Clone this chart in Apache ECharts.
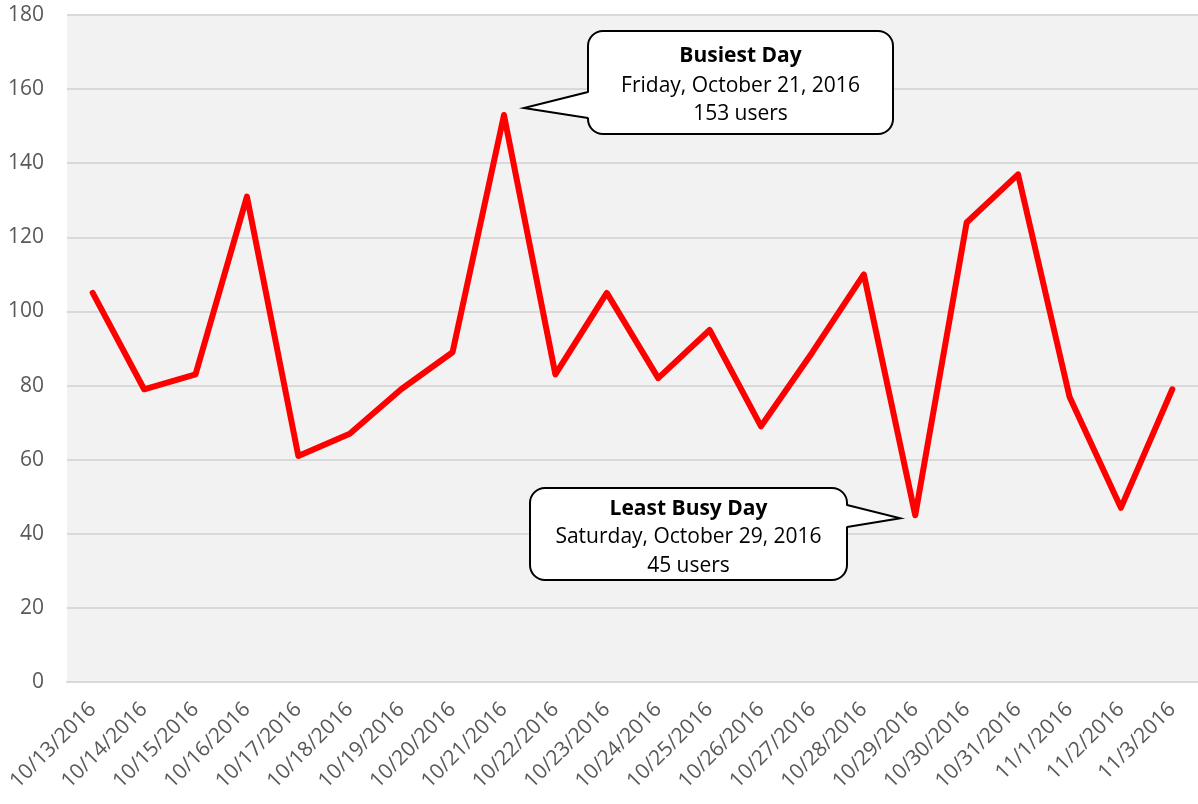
<!doctype html>
<html>
<head>
<meta charset="utf-8">
<title>Users per day</title>
<style>
  html, body { margin: 0; padding: 0; background: #fff; }
  #main { width: 1198px; height: 804px; }
</style>
</head>
<body>
<div id="main"></div>
<script src="https://cdn.jsdelivr.net/npm/echarts@6/dist/echarts.min.js"></script>
<script>
var days = ['10/13/2016', '10/14/2016', '10/15/2016', '10/16/2016', '10/17/2016', '10/18/2016',
            '10/19/2016', '10/20/2016', '10/21/2016', '10/22/2016', '10/23/2016', '10/24/2016',
            '10/25/2016', '10/26/2016', '10/27/2016', '10/28/2016', '10/29/2016', '10/30/2016',
            '10/31/2016', '11/1/2016', '11/2/2016', '11/3/2016'];
var users = [105, 79, 83, 131, 61, 67, 79, 89, 153, 83, 105, 82, 95, 69, 89, 110, 45, 124, 137, 77, 47, 79];

var busiest = { title: 'Busiest Day', date: 'Friday, October 21, 2016', count: '153 users', idx: 8 };
var leastBusy = { title: 'Least Busy Day', date: 'Saturday, October 29, 2016', count: '45 users', idx: 16 };

var font = '"Open Sans", "Liberation Sans", sans-serif';
var myChart = echarts.init(document.getElementById('main'));

var option = {
    backgroundColor: '#ffffff',
    animation: false,
    grid: {
        left: 67, right: 0, top: 15, bottom: 122,
        show: true, backgroundColor: '#f2f2f2', borderWidth: 0
    },
    xAxis: {
        type: 'category',
        data: days,
        boundaryGap: true,
        axisLine: { lineStyle: { color: '#d9d9d9', width: 2 } },
        axisTick: { show: false },
        axisLabel: {
            interval: 0, rotate: 45, margin: 24,
            color: '#595959', fontSize: 21, fontFamily: font
        }
    },
    yAxis: {
        type: 'value',
        min: 0, max: 180, interval: 20,
        axisLine: { show: false },
        axisTick: { show: false },
        splitLine: { lineStyle: { color: '#d9d9d9', width: 2 } },
        axisLabel: { margin: 23, color: '#595959', fontSize: 21, fontFamily: font }
    },
    series: [{
        type: 'line',
        data: users,
        symbol: 'none',
        lineStyle: { color: '#ff0000', width: 6, join: 'round', cap: 'round' }
    }]
};
myChart.setOption(option);

// callout = rounded box + tail (white patch hides the box border under the tail)
function callout(info, box, side, t1, t2, offset) {
    var pt = myChart.convertToPixel({ seriesIndex: 0 }, [info.idx, users[info.idx]]);
    var tip = [pt[0] + offset[0], pt[1] + offset[1]];
    var ex = side === 'left' ? box.x : box.x + box.w;
    var inset = side === 'left' ? 3 : -3;
    var cx = box.x + box.w / 2;
    var txt = { fill: '#000', fontSize: 21, fontFamily: font, align: 'center', verticalAlign: 'middle' };
    return [
        { type: 'rect', z: 100,
          shape: { x: box.x, y: box.y, width: box.w, height: box.h, r: 15 },
          style: { fill: '#ffffff', stroke: '#000000', lineWidth: 2 } },
        { type: 'polygon', z: 101,
          shape: { points: [[ex + inset, t1], tip, [ex + inset, t2]] },
          style: { fill: '#ffffff', stroke: null } },
        { type: 'polyline', z: 102,
          shape: { points: [[ex, t1], tip, [ex, t2]] },
          style: { stroke: '#000000', lineWidth: 2, fill: null } },
        { type: 'text', z: 103, x: cx, y: box.y + box.lines[0],
          style: Object.assign({}, txt, { text: info.title, fontWeight: 'bold' }) },
        { type: 'text', z: 103, x: cx, y: box.y + box.lines[1],
          style: Object.assign({}, txt, { text: info.date }) },
        { type: 'text', z: 103, x: cx, y: box.y + box.lines[2],
          style: Object.assign({}, txt, { text: info.count }) }
    ];
}

var g1 = callout(busiest, { x: 588, y: 31, w: 305, h: 103, lines: [25, 55, 83] }, 'left', 92, 118, [20, -7]);
var g2 = callout(leastBusy, { x: 530, y: 488, w: 317, h: 92, lines: [21, 49, 78] }, 'right', 505, 527, [-15, 3]);
myChart.setOption({ graphic: g1.concat(g2) });
</script>
</body>
</html>
